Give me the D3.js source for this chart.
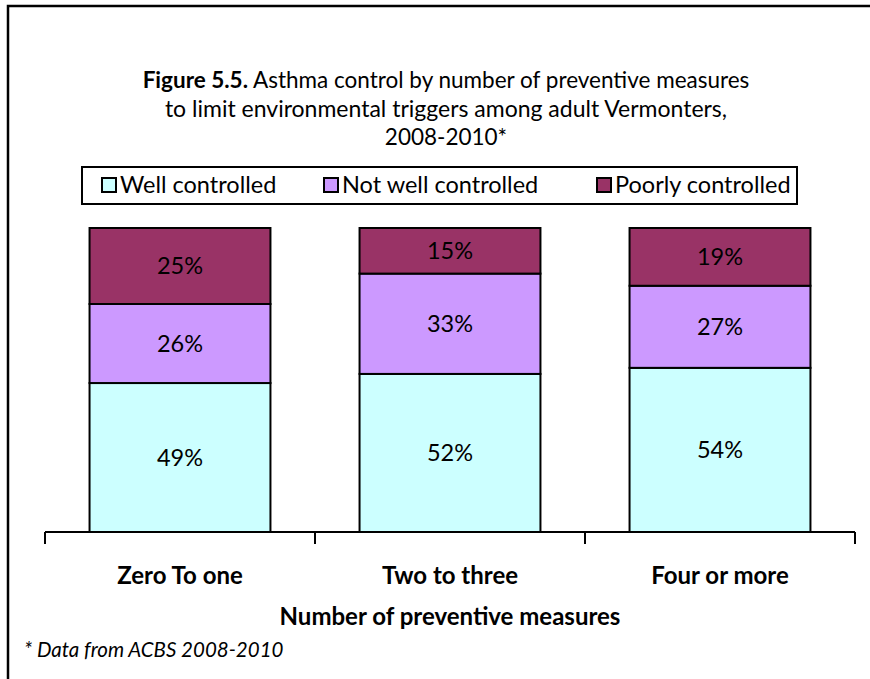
<!DOCTYPE html>
<html>
<head>
<meta charset="utf-8">
<script src="https://cdn.jsdelivr.net/npm/d3@7"></script>
<style>
  body { margin: 0; background: #fff; }
  text { font-family: Lato, "Open Sans", sans-serif; fill: #000; }
</style>
</head>
<body>
<div id="chart"></div>
<script>
// data
var categories = ["Zero To one", "Two to three", "Four or more"];
var seriesNames = ["Well controlled", "Not well controlled", "Poorly controlled"];
var wellControlled = [49, 52, 54];
var notWellControlled = [26, 33, 27];
var poorlyControlled = [25, 15, 19];
var seriesColors = ["#CCFFFF", "#CC99FF", "#993366"];

var width = 870, height = 679;
var margin = {top: 228, left: 45, right: 15, bottom: 147};
var plotW = width - margin.left - margin.right,
    plotH = height - margin.top - margin.bottom;

var svg = d3.select("#chart").append("svg")
    .attr("width", width)
    .attr("height", height);

// frame (top + left only, like the cropped original)
svg.append("path")
    .attr("d", "M8,679 V6 H870")
    .attr("fill", "none")
    .attr("stroke", "#000")
    .attr("stroke-width", 2.5);

// title
var titleSize = "22.5px";
var title = svg.append("text")
    .attr("x", 446)
    .attr("y", 88)
    .attr("text-anchor", "middle")
    .style("font-size", titleSize);
title.append("tspan").style("font-weight", "bold").text("Figure 5.5.");
title.append("tspan").text(" Asthma control by number of preventive measures");
svg.append("text")
    .attr("x", 446).attr("y", 117)
    .attr("text-anchor", "middle")
    .style("font-size", "23px")
    .text("to limit environmental triggers among adult Vermonters,");
svg.append("text")
    .attr("x", 446).attr("y", 145)
    .attr("text-anchor", "middle")
    .style("font-size", titleSize)
    .text("2008-2010*");

// stack the data
var table = categories.map(function(c, i) {
  return {cat: c, s0: wellControlled[i], s1: notWellControlled[i], s2: poorlyControlled[i]};
});
var stack = d3.stack().keys(["s0", "s1", "s2"])(table);

var x = d3.scaleBand()
    .domain(categories)
    .range([0, plotW])
    .paddingInner(0.33)
    .paddingOuter(0.165);
var y = d3.scaleLinear()
    .domain([0, 100])
    .range([plotH, 0]);

var g = svg.append("g")
    .attr("transform", "translate(" + margin.left + "," + margin.top + ")");

var layers = g.selectAll(".layer")
    .data(stack)
    .enter().append("g")
    .attr("class", "layer")
    .attr("fill", function(d, i) { return seriesColors[i]; });

layers.selectAll("rect")
    .data(function(d) { return d; })
    .enter().append("rect")
    .attr("x", function(d) { return x(d.data.cat); })
    .attr("y", function(d) { return y(d[1]); })
    .attr("width", x.bandwidth())
    .attr("height", function(d) { return y(d[0]) - y(d[1]); })
    .attr("stroke", "#000")
    .attr("stroke-width", 2);

layers.selectAll("text")
    .data(function(d) { return d; })
    .enter().append("text")
    .attr("x", function(d) { return x(d.data.cat) + x.bandwidth() / 2; })
    .attr("y", function(d) { return (y(d[0]) + y(d[1])) / 2; })
    .attr("dy", "0.35em")
    .attr("text-anchor", "middle")
    .style("font-size", "23.5px")
    .text(function(d) { return (d[1] - d[0]) + "%"; });

// x axis: ticks between categories
var tickPos = d3.range(categories.length + 1).map(function(i) { return i * plotW / categories.length; });
var axis = g.append("g").attr("transform", "translate(0," + plotH + ")");
axis.append("line")
    .attr("x1", 0).attr("x2", plotW)
    .attr("stroke", "#000").attr("stroke-width", 2);
axis.selectAll(".tick")
    .data(tickPos)
    .enter().append("line")
    .attr("x1", function(d) { return d; })
    .attr("x2", function(d) { return d; })
    .attr("y1", 0).attr("y2", 12)
    .attr("stroke", "#000").attr("stroke-width", 2);
axis.selectAll(".lbl")
    .data(categories)
    .enter().append("text")
    .attr("x", function(d) { return x(d) + x.bandwidth() / 2; })
    .attr("y", 52)
    .attr("text-anchor", "middle")
    .style("font-size", "24px")
    .style("font-weight", "bold")
    .text(function(d) { return d; });

// axis title
svg.append("text")
    .attr("x", margin.left + plotW / 2)
    .attr("y", 625)
    .attr("text-anchor", "middle")
    .style("font-size", "24px")
    .style("font-weight", "bold")
    .text("Number of preventive measures");

// footnote
svg.append("text")
    .attr("x", 24)
    .attr("y", 657)
    .style("font-size", "20.5px")
    .style("font-style", "italic")
    .text("* Data from ACBS 2008-2010");

// legend
var legend = svg.append("g");
legend.append("rect")
    .attr("x", 82).attr("y", 167)
    .attr("width", 715).attr("height", 37)
    .attr("fill", "#fff")
    .attr("stroke", "#000")
    .attr("stroke-width", 2);
var legX = [102, 324, 597];
var items = legend.selectAll(".item")
    .data(seriesNames)
    .enter().append("g")
    .attr("transform", function(d, i) { return "translate(" + legX[i] + ",178)"; });
items.append("rect")
    .attr("width", 14).attr("height", 14)
    .attr("fill", function(d, i) { return seriesColors[i]; })
    .attr("stroke", "#000")
    .attr("stroke-width", 2);
items.append("text")
    .attr("x", 18).attr("y", 7)
    .attr("dy", "0.35em")
    .style("font-size", "23.5px")
    .text(function(d) { return d; });
</script>
</body>
</html>
